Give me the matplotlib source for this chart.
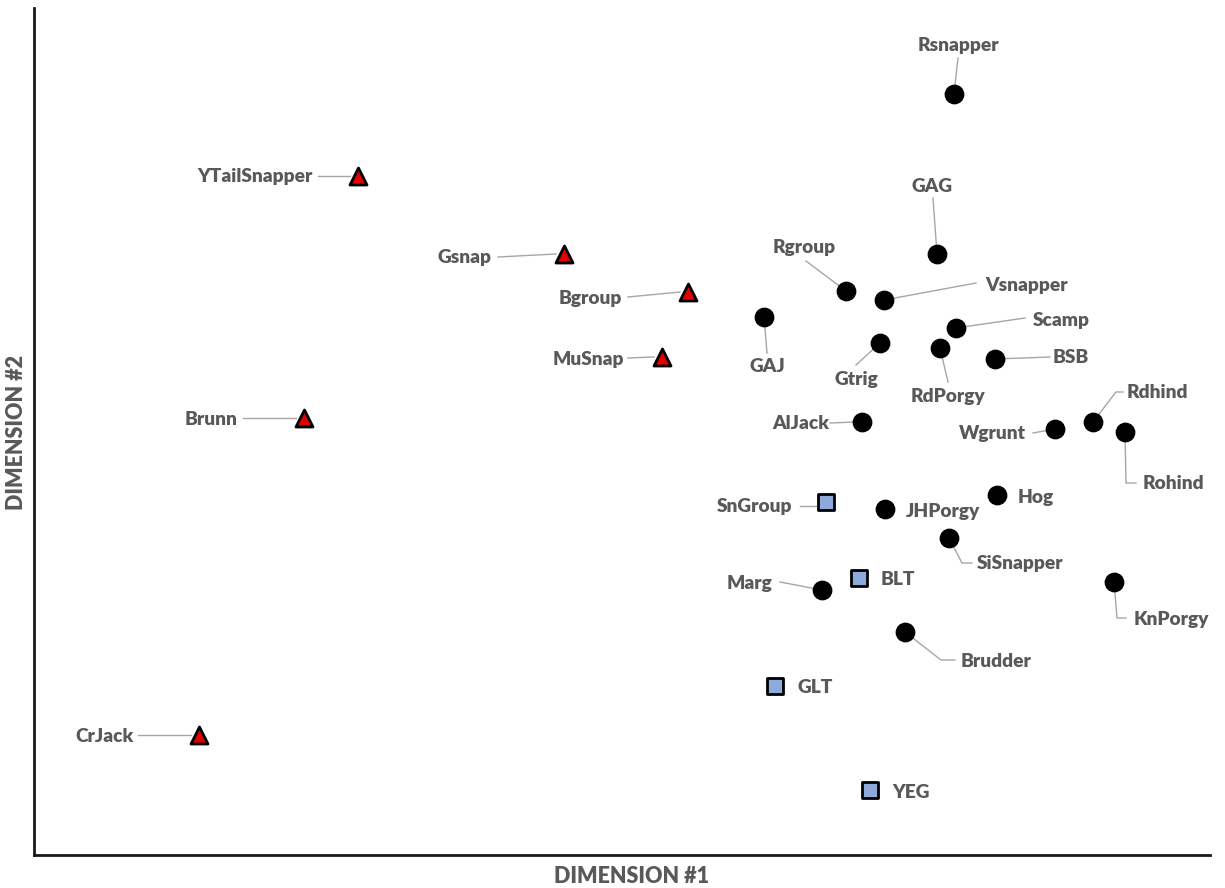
import matplotlib
matplotlib.use("Agg")
import matplotlib.pyplot as plt

# ---------------- data (MDS coordinates, arbitrary units) ----------------
tri_names = ["YTailSnapper", "Gsnap", "Bgroup", "MuSnap", "Brunn", "CrJack"]
tri_dim1 = [3.24, 5.30, 6.54, 6.28, 2.70, 1.65]
tri_dim2 = [6.79, 6.01, 5.63, 4.98, 4.37, 1.20]

sq_names = ["SnGroup", "BLT", "GLT", "YEG"]
sq_dim1 = [7.92, 8.25, 7.41, 8.36]
sq_dim2 = [3.53, 2.77, 1.69, 0.65]

cir_names = ["Rsnapper", "GAG", "Rgroup", "Vsnapper", "GAJ", "Gtrig", "Scamp",
             "RdPorgy", "BSB", "AlJack", "Wgrunt", "Rdhind", "Rohind", "Hog",
             "JHPorgy", "SiSnapper", "Marg", "KnPorgy", "Brudder"]
cir_dim1 = [9.20, 9.03, 8.12, 8.50, 7.30, 8.46, 9.22, 9.06, 9.61, 8.28,
            10.21, 10.59, 10.91, 9.63, 8.51, 9.15, 7.88, 10.80, 8.71]
cir_dim2 = [7.61, 6.01, 5.64, 5.55, 5.38, 5.12, 5.27, 5.07, 4.96, 4.33,
            4.26, 4.33, 4.23, 3.60, 3.46, 3.17, 2.65, 2.73, 2.23]

x_label = "DIMENSION #1"
y_label = "DIMENSION #2"

# ---------------- label layout (offsets in pixels, screen y down) ----------------
layout = {
    "YTailSnapper": ((-103, 0), "center", [(-40, 0), (-8, 0)]),
    "Gsnap": ((-100, 3), "center", [(-66, 3), (-8, 0)]),
    "Bgroup": ((-98, 6), "center", [(-60, 5), (-8, 0)]),
    "MuSnap": ((-74, 2), "center", [(-34, 1), (-8, 0)]),
    "Brunn": ((-93, 1), "center", [(-61, 0), (-8, 0)]),
    "CrJack": ((-95, 1), "center", [(-61, 0), (-8, 0)]),
    "SnGroup": ((-71, 4), "center", [(-26, 4), (-9, 4)]),
    "BLT": ((22, 1), "left", None),
    "GLT": ((22, 1), "left", None),
    "YEG": ((22, 2), "left", None),
    "Rsnapper": ((4, -49), "center", [(0, 0), (4, -36)]),
    "GAG": ((-5, -68), "center", [(0, 0), (-4, -56)]),
    "Rgroup": ((-42, -44), "center", [(0, 0), (-40, -30)]),
    "Vsnapper": ((143, -15), "center", [(0, 0), (92, -17)]),
    "GAJ": ((3, 49), "center", [(0, 0), (3, 36)]),
    "Gtrig": ((-24, 36), "center", [(0, 0), (-24, 22)]),
    "Scamp": ((105, -8), "center", [(0, 0), (69, -10)]),
    "RdPorgy": ((8, 48), "center", [(0, 0), (8, 34)]),
    "BSB": ((76, -2), "center", [(0, 0), (55, -2)]),
    "AlJack": ((-61, 1), "center", [(-32, 1), (-7, 0)]),
    "Wgrunt": ((-63, 4), "center", [(-22, 4), (0, 0)]),
    "Rdhind": ((64, -30), "center", [(0, 0), (23, -30), (30, -30)]),
    "Rohind": ((48, 51), "center", [(0, 0), (1, 51), (11, 51)]),
    "Hog": ((21, 2), "left", None),
    "JHPorgy": ((21, 2), "left", None),
    "SiSnapper": ((71, 25), "center", [(0, 0), (13, 25), (23, 25)]),
    "Marg": ((-73, -7), "center", [(-42, -8), (0, 0)]),
    "KnPorgy": ((57, 37), "center", [(0, 0), (3, 36), (12, 36)]),
    "Brudder": ((91, 29), "center", [(0, 0), (36, 28), (50, 28)]),
}

W, H = 1225, 888
fig = plt.figure(figsize=(W / 100, H / 100), dpi=100)
left, right, top, bottom = 34, 1210, 8, 855
ax = fig.add_axes([left / W, (H - bottom) / H, (right - left) / W, (bottom - top) / H])
ax.set_xlim(0, (right - left) / 100)
ax.set_ylim(0, (bottom - top) / 100)

for s in ["top", "right"]:
    ax.spines[s].set_visible(False)
for s in ["left", "bottom"]:
    ax.spines[s].set_linewidth(2.0)
    ax.spines[s].set_color("#1a1a1a")
ax.set_xticks([])
ax.set_yticks([])

ax.scatter(tri_dim1, tri_dim2, marker="^", s=150, c="#e00000", edgecolors="black",
           linewidths=2.0, zorder=3)
ax.scatter(sq_dim1, sq_dim2, marker="s", s=130, c="#8eaadb", edgecolors="black",
           linewidths=2.0, zorder=3)
ax.scatter(cir_dim1, cir_dim2, marker="o", s=175, c="black", edgecolors="black",
           linewidths=1.0, zorder=3)

font = dict(family=["Lato", "DejaVu Sans"], fontweight="heavy", color="#595959", fontsize=13.8)

def place(names, xs, ys):
    for n, x, y in zip(names, xs, ys):
        (dx, dy), ha, leader = layout[n]
        ax.text(x + dx / 100, y - dy / 100, n, ha=ha, va="center", zorder=4, **font)
        if leader:
            lx = [x + p[0] / 100 for p in leader]
            ly = [y - p[1] / 100 for p in leader]
            ax.plot(lx, ly, color="#a6a6a6", lw=1.0, zorder=2)

place(tri_names, tri_dim1, tri_dim2)
place(sq_names, sq_dim1, sq_dim2)
place(cir_names, cir_dim1, cir_dim2)

fig.text(631 / W, 1 - 876 / H, x_label, ha="center", va="center", **{**font, "fontsize": 15.5})
fig.text(17 / W, 1 - 432 / H, y_label, ha="center", va="center", rotation=90,
         **{**font, "fontsize": 15.5})

fig.savefig("out.png", dpi=100, facecolor="white")
